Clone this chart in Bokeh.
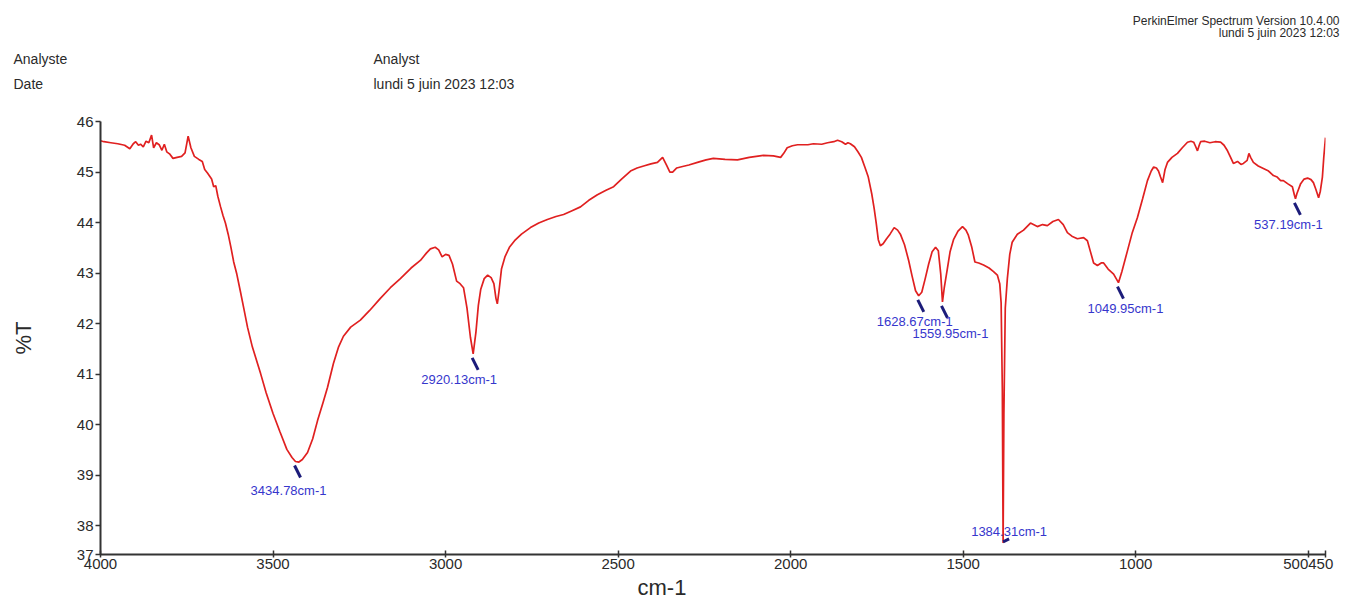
from bokeh.plotting import figure
from bokeh.models import Range1d, FixedTicker, Title, ColumnDataSource
from bokeh.layouts import column, row
from bokeh.core.properties import value
from bokeh.embed import file_html
from bokeh.resources import INLINE

# ---------------- data ----------------
wavenumber = [4000, 3990, 3970, 3950, 3930, 3915, 3905, 3898, 3890, 3884, 3876, 3868, 3860, 3852, 3846,
              3838, 3830, 3822, 3815, 3808, 3800, 3790, 3778, 3765, 3755, 3746, 3738, 3728, 3715, 3705,
              3698, 3690, 3684, 3678, 3672, 3666, 3660, 3652, 3645, 3638, 3630, 3622, 3614, 3605, 3595,
              3585, 3574, 3560, 3545, 3536, 3520, 3500, 3480, 3460, 3445, 3435, 3425, 3415, 3400, 3385,
              3371, 3355, 3342, 3325, 3310, 3296, 3275, 3247, 3220, 3189, 3160, 3131, 3100, 3073, 3055,
              3044, 3030, 3020, 3010, 3000, 2990, 2980, 2968, 2958, 2948, 2938, 2928, 2920, 2912, 2905,
              2898, 2888, 2878, 2868, 2860, 2854, 2850, 2845, 2838, 2828, 2815, 2800, 2780, 2754, 2730,
              2705, 2680, 2658, 2635, 2609, 2585, 2560, 2535, 2513, 2490, 2464, 2445, 2426, 2405, 2386,
              2371, 2360, 2350, 2342, 2330, 2319, 2295, 2270, 2245, 2224, 2190, 2154, 2120, 2079, 2050,
              2029, 2020, 2010, 1995, 1980, 1950, 1934, 1910, 1893, 1875, 1864, 1852, 1841, 1834, 1827,
              1815, 1805, 1795, 1785, 1775, 1765, 1758, 1752, 1746, 1740, 1732, 1722, 1712, 1700, 1690,
              1682, 1670, 1658, 1648, 1638, 1629, 1620, 1610, 1600, 1590, 1580, 1572, 1565, 1560, 1555,
              1546, 1538, 1528, 1515, 1502, 1492, 1485, 1475, 1466, 1455, 1441, 1425, 1412, 1401, 1394,
              1390, 1386.5, 1384.3, 1382, 1378, 1372, 1365, 1358, 1343, 1325, 1305, 1285, 1270, 1256, 1240,
              1224, 1210, 1198, 1185, 1169, 1151, 1140, 1131, 1122, 1111, 1100, 1093, 1080, 1064, 1050,
              1040, 1024, 1010, 995, 980, 966, 955, 948, 940, 934, 928, 922, 915, 908, 895,
              879, 865, 850, 840, 832, 826, 821, 816, 812, 800, 785, 770, 754, 744, 734,
              725, 717, 705, 695, 688, 677, 672, 667, 659, 645, 630, 615, 601, 590, 580,
              572, 560, 546, 540, 537, 533, 522, 512, 502, 492, 485, 478, 470, 465, 459,
              455, 450]
transmittance = [45.62, 45.60, 45.58, 45.56, 45.53, 45.46, 45.56, 45.60, 45.53, 45.55, 45.50, 45.61, 45.58, 45.73, 45.48,
                 45.58, 45.54, 45.43, 45.55, 45.40, 45.36, 45.27, 45.29, 45.31, 45.38, 45.71, 45.48, 45.31, 45.25, 45.21,
                 45.05, 44.98, 44.92, 44.86, 44.71, 44.73, 44.52, 44.31, 44.14, 43.99, 43.77, 43.51, 43.22, 42.98, 42.65,
                 42.31, 41.93, 41.54, 41.21, 41.01, 40.63, 40.22, 39.86, 39.51, 39.35, 39.27, 39.26, 39.31, 39.45, 39.72,
                 40.08, 40.44, 40.74, 41.21, 41.54, 41.75, 41.93, 42.07, 42.26, 42.50, 42.71, 42.89, 43.10, 43.25, 43.40,
                 43.48, 43.51, 43.46, 43.32, 43.37, 43.35, 43.18, 42.84, 42.79, 42.71, 42.31, 41.73, 41.40, 41.83, 42.36,
                 42.68, 42.89, 42.96, 42.91, 42.79, 42.50, 42.39, 42.65, 43.08, 43.32, 43.51, 43.64, 43.77, 43.90, 43.99,
                 44.06, 44.12, 44.16, 44.23, 44.31, 44.44, 44.55, 44.64, 44.71, 44.86, 45.02, 45.08, 45.12, 45.16, 45.19,
                 45.29, 45.14, 45.00, 45.00, 45.08, 45.10, 45.14, 45.19, 45.24, 45.27, 45.25, 45.24, 45.29, 45.33, 45.32,
                 45.29, 45.37, 45.48, 45.52, 45.54, 45.54, 45.56, 45.55, 45.58, 45.60, 45.63, 45.60, 45.55, 45.58, 45.56,
                 45.50, 45.40, 45.29, 45.10, 44.90, 44.57, 44.28, 43.99, 43.66, 43.54, 43.58, 43.68, 43.77, 43.90, 43.85,
                 43.77, 43.56, 43.25, 42.94, 42.65, 42.55, 42.62, 42.89, 43.18, 43.42, 43.51, 43.44, 42.98, 42.43, 42.70,
                 43.08, 43.42, 43.66, 43.83, 43.92, 43.85, 43.75, 43.51, 43.22, 43.20, 43.16, 43.10, 43.03, 42.96, 42.79,
                 42.41, 40.68, 37.66, 40.20, 42.31, 42.89, 43.37, 43.61, 43.77, 43.85, 43.99, 43.92, 43.96, 43.94, 44.02,
                 44.06, 43.96, 43.80, 43.73, 43.68, 43.70, 43.64, 43.42, 43.20, 43.15, 43.20, 43.20, 43.08, 42.98, 42.81,
                 43.03, 43.44, 43.80, 44.10, 44.47, 44.83, 45.02, 45.10, 45.08, 45.02, 44.90, 44.79, 45.05, 45.19, 45.29,
                 45.37, 45.48, 45.59, 45.61, 45.59, 45.50, 45.42, 45.53, 45.60, 45.61, 45.58, 45.60, 45.59, 45.53, 45.42,
                 45.29, 45.17, 45.21, 45.15, 45.17, 45.23, 45.37, 45.29, 45.19, 45.12, 45.07, 45.02, 44.93, 44.90, 44.83,
                 44.83, 44.77, 44.71, 44.54, 44.47, 44.57, 44.77, 44.86, 44.88, 44.85, 44.79, 44.66, 44.49, 44.62, 44.90,
                 45.29, 45.68]

peak_wn = [3434.78, 2920.13, 1628.67, 1559.95, 1384.31, 1049.95, 537.19]
peak_t = [39.27, 41.40, 42.55, 42.43, 37.66, 42.81, 44.47]
peak_labels = ["3434.78cm-1", "2920.13cm-1", "1628.67cm-1", "1559.95cm-1", "1384.31cm-1", "1049.95cm-1", "537.19cm-1"]

x_limits = (4000, 450)
y_limits = (37.43, 46)
x_ticks = [4000, 3500, 3000, 2500, 2000, 1500, 1000, 500, 450]
x_tick_text = {500: "500450", 450: ""}
y_ticks = [37.43, 38, 39, 40, 41, 42, 43, 44, 45, 46]
y_tick_text = {37.43: "37"}

header_left = ["Analyste", "Date"]
header_mid = ["Analyst", "lundi 5 juin 2023 12:03"]
header_right = ["PerkinElmer Spectrum Version 10.4.00", "lundi 5 juin 2023 12:03"]

# ---------------- layout ----------------
W = 1355
HH = 100                      # header strip height
H = 505                       # main figure height
BL, BR, BT, BB = 100, 30, 21, 51
frame_w = W - BL - BR
frame_h = H - BT - BB
X0, X1 = x_limits
Y0, Y1 = y_limits
px_x = (X0 - X1) / frame_w      # cm-1 per pixel
px_y = (Y1 - Y0) / frame_h      # %T per pixel

FONT = "Liberation Sans"
TXT = "#2a2a2a"

# ---------- header strip ----------
hd = figure(width=W, height=HH, output_backend="svg", toolbar_location=None,
            x_range=Range1d(0, W), y_range=Range1d(HH, 0),
            x_axis_type=None, y_axis_type=None, min_border=0)
hd.outline_line_color = None
hd.xgrid.visible = False
hd.ygrid.visible = False
hd.text(x=[13, 13], y=[58, 83], text=header_left, text_font=value(FONT), text_font_size="14px",
        text_color=TXT, text_align="left", text_baseline="middle")
hd.text(x=[373, 373], y=[58, 83], text=header_mid, text_font=value(FONT), text_font_size="14px",
        text_color=TXT, text_align="left", text_baseline="middle")
hd.text(x=[1339, 1339], y=[20, 32], text=header_right, text_font=value(FONT), text_font_size="12px",
        text_color=TXT, text_align="right", text_baseline="middle")

# ---------- main plot ----------
p = figure(width=W, height=H, output_backend="svg", toolbar_location=None,
           x_range=Range1d(X0, X1), y_range=Range1d(Y0, Y1))
p.min_border_left = BL
p.min_border_right = BR
p.min_border_top = BT
p.min_border_bottom = BB
p.outline_line_color = None
p.xgrid.visible = False
p.ygrid.visible = False

for ax in (p.xaxis[0], p.yaxis[0]):
    ax.axis_line_color = "#333333"
    ax.axis_line_width = 2
    ax.major_tick_line_color = "#333333"
    ax.major_tick_line_width = 1.5
    ax.minor_tick_line_color = None
    ax.major_label_text_font = FONT
    ax.major_label_text_font_size = "15px"
    ax.major_label_text_color = TXT

p.xaxis.ticker = FixedTicker(ticks=x_ticks)
p.xaxis.major_label_overrides = x_tick_text
p.xaxis.major_tick_in = 4
p.xaxis.major_tick_out = 3
p.xaxis.major_label_standoff = 1
p.yaxis.ticker = FixedTicker(ticks=y_ticks)
p.yaxis.major_label_overrides = y_tick_text
p.yaxis.major_tick_in = 0
p.yaxis.major_tick_out = 5
p.yaxis.major_label_standoff = 2

p.yaxis.axis_label = "%T"
p.yaxis.axis_label_text_font = FONT
p.yaxis.axis_label_text_font_size = "22px"
p.yaxis.axis_label_text_font_style = "normal"
p.yaxis.axis_label_text_color = TXT
p.yaxis.axis_label_standoff = 38

p.add_layout(Title(text="cm-1", align="left", offset=537, standoff=3,
                   text_font=FONT, text_font_size="22px", text_font_style="normal",
                   text_color=TXT), "below")

# spectrum
p.line(wavenumber, transmittance, line_color="#e02020", line_width=1.7)

# peak marks (short dark strokes just below each picked peak)
mx0 = [w + 1 * px_x for w in peak_wn]
my0 = [t - 4 * px_y for t in peak_t]
mx1 = [w - 5 * px_x for w in peak_wn]
my1 = [t - 16 * px_y for t in peak_t]
mx0[4] = peak_wn[4]
my0[4] = peak_t[4] + 1 * px_y
mx1[4] = peak_wn[4] - 6 * px_x
my1[4] = peak_t[4] + 4 * px_y
p.segment(mx0, my0, mx1, my1, line_color="#1c1c7a", line_width=3)

src = ColumnDataSource(dict(x=peak_wn, y=peak_t, text=peak_labels,
                            dx=[-7, -14, -4, 8, 6, 7, -7],
                            dy=[29, 26, 26, 32, -11, 26, 26]))
p.text(x="x", y="y", text="text", x_offset="dx", y_offset="dy", source=src,
       text_font=value(FONT), text_font_size="13px", text_color="#3636cc",
       text_align="center", text_baseline="middle")

layout = column(row(hd), p, spacing=0)
open("out.html", "w").write(file_html(layout, INLINE))
